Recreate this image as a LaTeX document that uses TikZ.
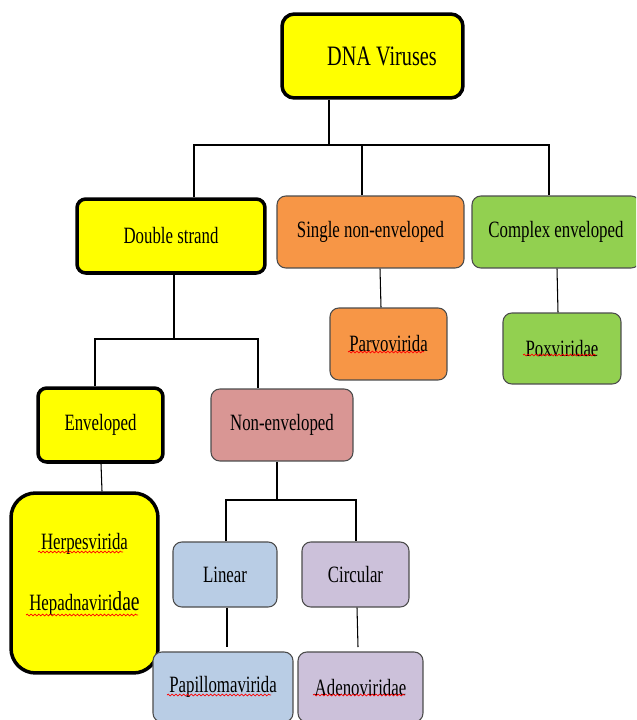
\documentclass[tikz,border=0pt]{standalone}
\usepackage{fontspec}
\setmainfont{Liberation Serif}[FakeStretch=0.72]
\usepackage{tikz}
\usetikzlibrary{decorations.pathmorphing}

\definecolor{yel}{HTML}{FFFF00}
\definecolor{ora}{HTML}{F79646}
\definecolor{grn}{HTML}{92D050}
\definecolor{pnk}{HTML}{D99694}
\definecolor{blu}{HTML}{B9CDE5}
\definecolor{lav}{HTML}{CCC1DA}

\begin{document}
\begin{tikzpicture}[x=0.02cm,y=-0.02cm,
  box/.style={rectangle,rounded corners=5pt,draw=black!70,line width=.6pt,inner sep=0pt,
    font=\fontsize{13.3}{16}\selectfont},
  bold/.style={box,draw=black,line width=2pt},
  link/.style={draw=black,line width=.6pt},
  spell/.style={red,line width=.4pt,decorate,decoration={snake,amplitude=.5pt,segment length=2.2pt}}]
  \path[use as bounding box,clip] (0,0) rectangle (636,720);

  \node[bold,fill=yel,minimum width=3.62cm,minimum height=1.68cm,rounded corners=7pt,
    font=\fontsize{16}{19}\selectfont] (dna) at (372.5,56) {\hspace{.38cm}DNA Viruses};
  \node[bold,fill=yel,minimum width=3.76cm,minimum height=1.48cm] (dbl) at (171,236) {Double strand};
  \node[box,fill=ora,minimum width=3.74cm,minimum height=1.44cm] (sgl) at (370.5,232) {Single non-enveloped\hspace{.3cm}};
  \node[box,fill=grn,minimum width=3.36cm,minimum height=1.44cm] (cpx) at (556,232) {Complex enveloped};
  \node[box,fill=ora,minimum width=2.34cm,minimum height=1.44cm] (parvo) at (388.5,344) {Parvovirida};
  \node[box,fill=grn,minimum width=2.36cm,minimum height=1.42cm] (pox) at (562,348.5) {Poxviridae};

  \node[bold,fill=yel,minimum width=2.5cm,minimum height=1.48cm] (env) at (100.5,425) {Enveloped};
  \node[box,fill=pnk,minimum width=2.84cm,minimum height=1.44cm] (nenv) at (282,425) {Non-enveloped};
  \node[bold,fill=yel,minimum width=2.94cm,minimum height=3.6cm,rounded corners=14pt,align=center] (herp)
    at (84.5,583) {Herpesvirida\\[18.6pt]Hepadnaviri{\fontsize{15.5}{16}\selectfont dae}\\[-3.6pt]\mbox{}};

  \node[box,fill=blu,minimum width=2.08cm,minimum height=1.3cm] (lin) at (225,574.5) {Linear};
  \node[box,fill=lav,minimum width=2.14cm,minimum height=1.3cm] (circ) at (355.5,574.5) {Circular};
  \node[box,fill=blu,minimum width=2.8cm,minimum height=1.4cm] (papi) at (223,687) {Papillomavirida};
  \node[box,fill=lav,minimum width=2.5cm,minimum height=1.4cm] (adeno) at (360.5,687) {Adenoviridae};

  % first level
  \draw[link] (dna.south -| 329,0) -- (329,145);
  \draw[link] (dbl.north -| 194,0) |- (549,145) -- (cpx.north -| 549,0);
  \draw[link] (sgl.north -| 362,0) -- (362,145);
  \draw[link] (sgl.south -| 380,0) -- (parvo.north -| 381,0);
  \draw[link] (cpx.south -| 557,0) -- (pox.north -| 558,0);
  % double strand
  \draw[link] (dbl.south -| 174,0) -- (174,339);
  \draw[link] (env.north -| 95,0) |- (258,339) -- (nenv.north -| 258,0);
  \draw[link] (env.south -| 101,0) -- (herp.north -| 102,0);
  % non-enveloped
  \draw[link] (nenv.south -| 277,0) -- (277,500);
  \draw[link] (lin.north -| 226,0) |- (356,500) -- (circ.north -| 356,0);
  \draw[link] (lin.south -| 227,0) -- (227,647);
  \draw[link] (circ.south -| 357,0) -- (358,647);

  % spell-check waves
  \foreach \a/\b/\y in {348/424/352, 523/596/355, 38/123/552, 26/138/615, 167/271/695, 313/405/695}
    \draw[spell] (\a,\y) -- (\b,\y);
\end{tikzpicture}
\end{document}
